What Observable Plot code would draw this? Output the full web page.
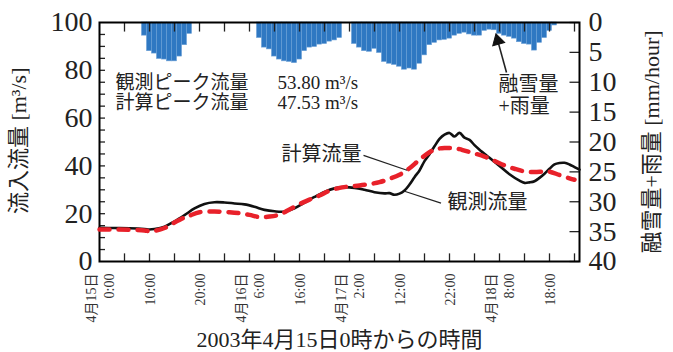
<!DOCTYPE html>
<html>
<head>
<meta charset="utf-8">
<script src="https://cdn.jsdelivr.net/npm/d3@7"></script>
<script src="https://cdn.jsdelivr.net/npm/@observablehq/plot@0.6"></script>
<style>
  body { margin: 0; background: #fff; }
  svg { font-family: "Liberation Serif", "Noto Sans CJK JP", serif; }
</style>
</head>
<body>
<div id="chart"></div>
<script>
// Hourly snowmelt + rainfall (mm/hour), hours 0..95 from 2003-04-15 0:00
const rainMm = [
  0, 0, 0, 0, 0, 0, 0, 0, 0,
  2.2, 4.8, 5.2, 6.1, 6.2, 6.5, 6.5, 5.7, 3.8, 1.9,
  0, 0, 0, 0, 0, 0, 0, 0, 0, 0, 0, 0, 0,
  2.6, 4.2, 4.5, 5.7, 6.2, 6.5, 6.6, 6.8, 6.2, 4.8, 4.2, 4.1, 3.7, 3.6, 3.2, 3.0, 2.6,
  0, 0,
  3.6, 4.2, 4.8, 4.9, 4.4, 5.1, 6.6, 6.9, 7.1, 7.4, 7.9, 7.7, 7.9, 6.9, 5.5, 3.8, 3.4,
  3.0, 2.9, 2.7, 2.2, 1.9, 1.7, 2.0, 2.2, 2.2, 1.4, 1.2, 1.3, 1.9, 2.2, 2.4, 2.7, 3.3,
  3.6, 3.7, 4.7, 3.4, 2.6, 1.4, 0.5,
  0, 0, 0, 0
];

// Observed inflow (m3/s)
const obsHour = [0,3,6,9,10,11,13,15,17,19,21,23,25,27,29,31,33,35,37,39,41,43,45,47,49,51,
  53,55,57,58,59,60,61,62,63,64,65,66,67,68,69,70,71,72,73,74,75,76,78,80,82,84,85,86,87,88,
  89,90,91,92,93,94,95,96];
const obsFlow = [14.1,14.0,13.9,13.6,13.4,13.6,14.6,16.8,19.4,22.2,24.1,24.8,24.7,24.3,23.9,22.9,
  21.6,21.0,20.9,22.3,24.6,27.0,29.1,30.6,31.1,30.8,30.0,29.0,28.5,28.6,27.9,28.4,29.7,32.2,35.3,38.1,
  42.0,44.9,48.2,51.3,53.1,53.8,52.3,53.8,51.8,50.9,48.7,46.8,43.4,40.0,36.5,33.8,32.9,33.1,33.6,35.0,
  36.7,38.8,40.6,41.2,41.3,40.6,39.5,38.4];

// Computed inflow (m3/s)
const calcHour = [0,3,6,9,10,11,13,15,17,18,20,23,26,28,30,32,34,36,38,40,42,44,46,48,50,52,54,56,58,60,
  62,64,66,67,68,69,70,71,72,73,75,77,79,81,83,85,87,89,90,92,94,95];
const calcFlow = [13.4,13.4,13.3,13.0,12.7,12.8,14.0,16.3,18.4,19.2,20.6,20.9,20.6,20.2,19.5,18.6,18.8,19.6,
  21.8,24.0,25.9,27.6,29.6,30.8,31.4,31.8,32.4,33.2,34.6,36.3,39.0,42.6,45.7,46.8,47.3,47.5,47.53,47.4,47.0,
  46.4,45.2,43.9,42.1,40.2,38.8,37.7,37.4,37.7,37.6,36.2,34.8,34.2];

// Axis ticks
const xTickHours = [0, 10, 20, 30, 40, 50, 60, 70, 80, 90];
const xTickLabels = ["4月15日\n0:00", "10:00", "20:00", "4月16日\n6:00", "16:00",
  "4月17日\n2:00", "12:00", "22:00", "4月18日\n8:00", "18:00"];
const xMinorHours = [5, 10, 15, 20, 25, 30, 35, 40, 45, 50, 55, 60, 65, 70, 75, 80, 85, 90, 95];
const leftTicks = [0, 20, 40, 60, 80, 100];
const leftMinor = [5, 10, 15, 20, 25, 30, 35, 40, 45, 50, 55, 60, 65, 70, 75, 80, 85, 90, 95];
const rightTicks = [0, 5, 10, 15, 20, 25, 30, 35, 40];

// rain axis (0 at top, 40 at bottom) shares the flow axis (100 at top, 0 at bottom)
const rainToY = r => 100 - r * 2.5;

const rainBars = rainMm.map((mm, h) => ({h, mm})).filter(d => d.mm > 0);
const observed = obsHour.map((h, i) => ({h, q: obsFlow[i]}));
const computed = calcHour.map((h, i) => ({h, q: calcFlow[i]}));
const xTicks = xTickHours.map((h, i) => ({h, label: xTickLabels[i]}));

const peakObs = d3.max(obsFlow).toFixed(2);
const peakCalc = d3.max(calcFlow).toFixed(2);
const peakLines = [
  {h: 3.2, y: 74.6, name: "観測ピーク流量", value: `${peakObs} m³/s`},
  {h: 3.2, y: 66.2, name: "計算ピーク流量", value: `${peakCalc} m³/s`}
];

const fontStack = "'Liberation Serif', 'Noto Sans CJK JP', serif";

const chart = Plot.plot({
  width: 673,
  height: 352,
  marginLeft: 99,
  marginRight: 94,
  marginTop: 22,
  marginBottom: 91,
  x: {domain: [0, 96], axis: null},
  y: {domain: [0, 100], axis: null},
  style: {fontFamily: fontStack, background: "white", color: "black"},
  marks: [
    // snowmelt + rainfall bars hanging from the top
    Plot.rect(rainBars, {
      x1: d => d.h - 0.5, x2: d => d.h + 0.5,
      y1: 100, y2: d => rainToY(d.mm),
      fill: "#2f78c2", stroke: "#6a9fd6", strokeWidth: 0.6
    }),
    // inward ticks
    Plot.ruleX(xMinorHours, {x: d => d, y1: 0, y2: 3.2, stroke: "#222", strokeWidth: 1.3}),
    Plot.ruleX(xMinorHours, {x: d => d, y1: 100, y2: 96, stroke: "#222", strokeWidth: 1.3}),
    Plot.ruleY(leftMinor, {y: d => d, x1: 0, x2: 1.2, stroke: "#222", strokeWidth: 1.3}),
    Plot.ruleY(rightTicks, {y: d => rainToY(d), x1: 96, x2: 94.1, stroke: "#222", strokeWidth: 1.3}),
    Plot.frame({stroke: "black", strokeWidth: 2}),
    // observed and computed inflow
    Plot.line(observed, {x: "h", y: "q", curve: "catmull-rom", stroke: "#111", strokeWidth: 2.6}),
    Plot.line(computed, {x: "h", y: "q", curve: "catmull-rom", stroke: "#e8212a",
      strokeWidth: 4.5, strokeDasharray: "10,9", strokeLinecap: "round"}),
    // left axis labels
    Plot.text(leftTicks, {y: d => d, text: d => String(d), frameAnchor: "left", dx: -7,
      textAnchor: "end", lineAnchor: "middle", fontSize: 28, fill: "#222"}),
    // right axis labels
    Plot.text(rightTicks, {y: d => rainToY(d), text: d => String(d), frameAnchor: "right", dx: 9,
      textAnchor: "start", lineAnchor: "middle", fontSize: 28, fill: "#222"}),
    // rotated time labels
    Plot.text(xTicks, {x: "h", text: "label", frameAnchor: "bottom", dy: 12, rotate: -90,
      textAnchor: "end", lineAnchor: "middle", lineHeight: 1.3, fontSize: 14, fill: "#333"}),
    // axis titles
    Plot.text([{y: 50.5, t: "流入流量 [m³/s]"}], {y: "y", text: "t", frameAnchor: "left", dx: -81,
      rotate: -90, textAnchor: "middle", lineAnchor: "middle", fontSize: 22, fill: "#222"}),
    Plot.text([{y: 50, t: "融雪量+雨量 [mm/hour]"}], {y: "y", text: "t", frameAnchor: "right", dx: 72,
      rotate: -90, textAnchor: "middle", lineAnchor: "middle", fontSize: 22, fill: "#222"}),
    Plot.text([{x: 48, t: "2003年4月15日0時からの時間"}], {x: "x", text: "t", frameAnchor: "bottom", dy: 78,
      textAnchor: "middle", lineAnchor: "middle", fontSize: 22, fill: "#222"}),
    // peak flow summary
    Plot.text(peakLines, {x: "h", y: "y", text: "name", textAnchor: "start", fontSize: 19, fill: "#222"}),
    Plot.text(peakLines, {x: () => 35.6, y: "y", text: "value", textAnchor: "start", fontSize: 19, fill: "#222"}),
    // series labels with leader lines
    Plot.link([{x1: 52.8, y1: 44.4, x2: 61.5, y2: 38.2}], {x1: "x1", y1: "y1", x2: "x2", y2: "y2",
      stroke: "#222", strokeWidth: 1.2}),
    Plot.text([{h: 52.4, y: 44.6, t: "計算流量"}], {x: "h", y: "y", text: "t", textAnchor: "end",
      fontSize: 20, fill: "#222"}),
    Plot.link([{x1: 61.0, y1: 29.4, x2: 68.3, y2: 24.4}], {x1: "x1", y1: "y1", x2: "x2", y2: "y2",
      stroke: "#222", strokeWidth: 1.2}),
    Plot.text([{h: 69.6, y: 24.6, t: "観測流量"}], {x: "h", y: "y", text: "t", textAnchor: "start",
      fontSize: 20, fill: "#222"}),
    // arrow pointing at the bars
    Plot.link([{x1: 81.4, y1: 79.1, x2: 79.7, y2: 92.0}], {x1: "x1", y1: "y1", x2: "x2", y2: "y2",
      stroke: "#222", strokeWidth: 1.6}),
    Plot.dot([{h: 79.66, y: 92.4}], {x: "h", y: "y", symbol: "triangle", r: 4.6, rotate: -15,
      fill: "#111", stroke: "#111", strokeWidth: 1}),
    Plot.text([{h: 79.8, y: 74.2, t: "融雪量\n+雨量"}], {x: "h", y: "y", text: "t", textAnchor: "start",
      lineAnchor: "top", dy: -10, lineHeight: 1.15, fontSize: 20, fill: "#222"})
  ]
});

document.getElementById("chart").appendChild(chart);
</script>
</body>
</html>
